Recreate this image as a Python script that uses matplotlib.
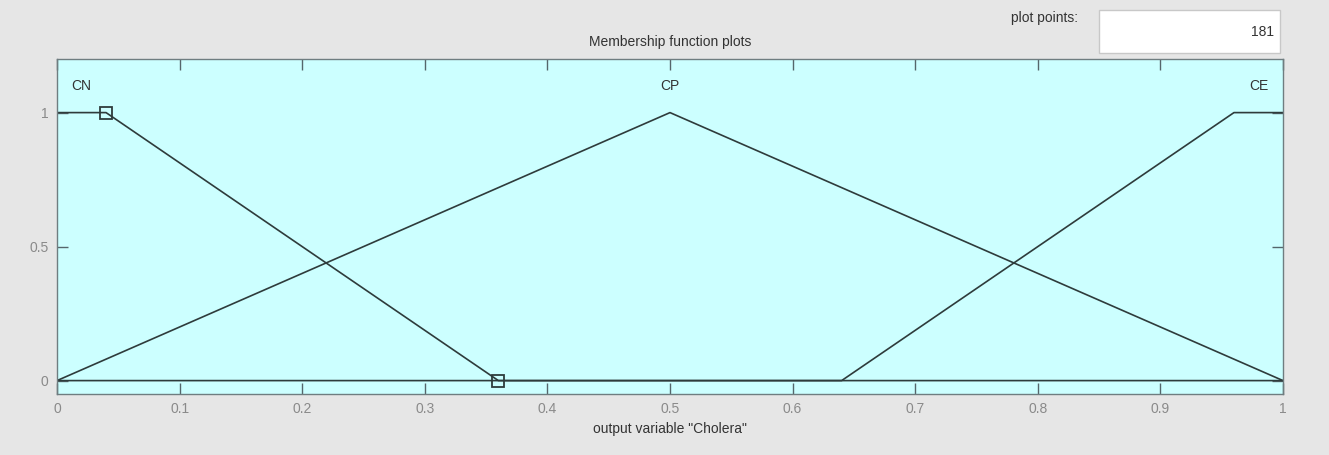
import numpy as np
import matplotlib.pyplot as plt
from matplotlib.patches import Rectangle

# membership functions of output variable "Cholera" (vertices of each MF)
mf_names = ["CN", "CP", "CE"]
mf_x = [[0.0, 0.04, 0.36, 1.0],
        [0.0, 0.5, 1.0],
        [0.0, 0.64, 0.96, 1.0]]
mf_y = [[1, 1, 0, 0],
        [0, 1, 0],
        [0, 0, 1, 1]]
label_x = [0.02, 0.5, 0.98]
# selected MF handles (squares)
sel_x = [0.04, 0.36]
sel_y = [1, 0]

xticks = np.round(np.arange(0, 1.01, 0.1), 1)
xticklabels = ["0", "0.1", "0.2", "0.3", "0.4", "0.5", "0.6", "0.7", "0.8", "0.9", "1"]
yticks = [0, 0.5, 1]
yticklabels = ["0", "0.5", "1"]
n_points = 181

plt.rcParams["font.family"] = ["Liberation Sans", "DejaVu Sans"]
bg = "#e6e6e6"
line_col = "#2e3b3b"
fig = plt.figure(figsize=(13.29, 4.55), dpi=100, facecolor=bg)
ax = fig.add_axes([57 / 1329, 1 - 394 / 455, 1226 / 1329, 335 / 455])
ax.set_facecolor("#ccffff")

for xs, ys in zip(mf_x, mf_y):
    ax.plot(xs, ys, color=line_col, lw=1.2)
for name, lx in zip(mf_names, label_x):
    ax.text(lx, 1.1, name, ha="center", va="center", fontsize=10, color="#333333")
ax.plot(sel_x, sel_y, ls="none", marker="s", ms=9, mfc="none", mec=line_col, mew=1.3)

ax.set_xlim(0, 1)
ax.set_ylim(-0.05, 1.2)
ax.set_xticks(xticks)
ax.set_xticklabels(xticklabels)
ax.set_yticks(yticks)
ax.set_yticklabels(yticklabels)
ax.tick_params(direction="in", length=8, width=1, color="#55666b", labelcolor="#8a8a8a",
               labelsize=10, top=True, right=True, pad=6)
for s in ax.spines.values():
    s.set_color("#6f7d80")
    s.set_linewidth(1)

fig.text(670 / 1329, 1 - 42 / 455, "Membership function plots", ha="center", va="center",
         fontsize=10, color="#333333")
fig.text(670 / 1329, 1 - 429 / 455, 'output variable "Cholera"', ha="center", va="center",
         fontsize=10, color="#333333")

# plot points box
fig.patches.append(Rectangle((1099 / 1329, 1 - 53 / 455), 181 / 1329, 43 / 455,
                             transform=fig.transFigure, facecolor="white",
                             edgecolor="#c8c8c8", lw=1))
fig.text(1078 / 1329, 1 - 18 / 455, "plot points:", ha="right", va="center",
         fontsize=10, color="#333333")
fig.text(1274 / 1329, 1 - 32 / 455, str(n_points), ha="right", va="center",
         fontsize=10, color="#333333")

fig.savefig("out.png", dpi=100, facecolor=bg)
